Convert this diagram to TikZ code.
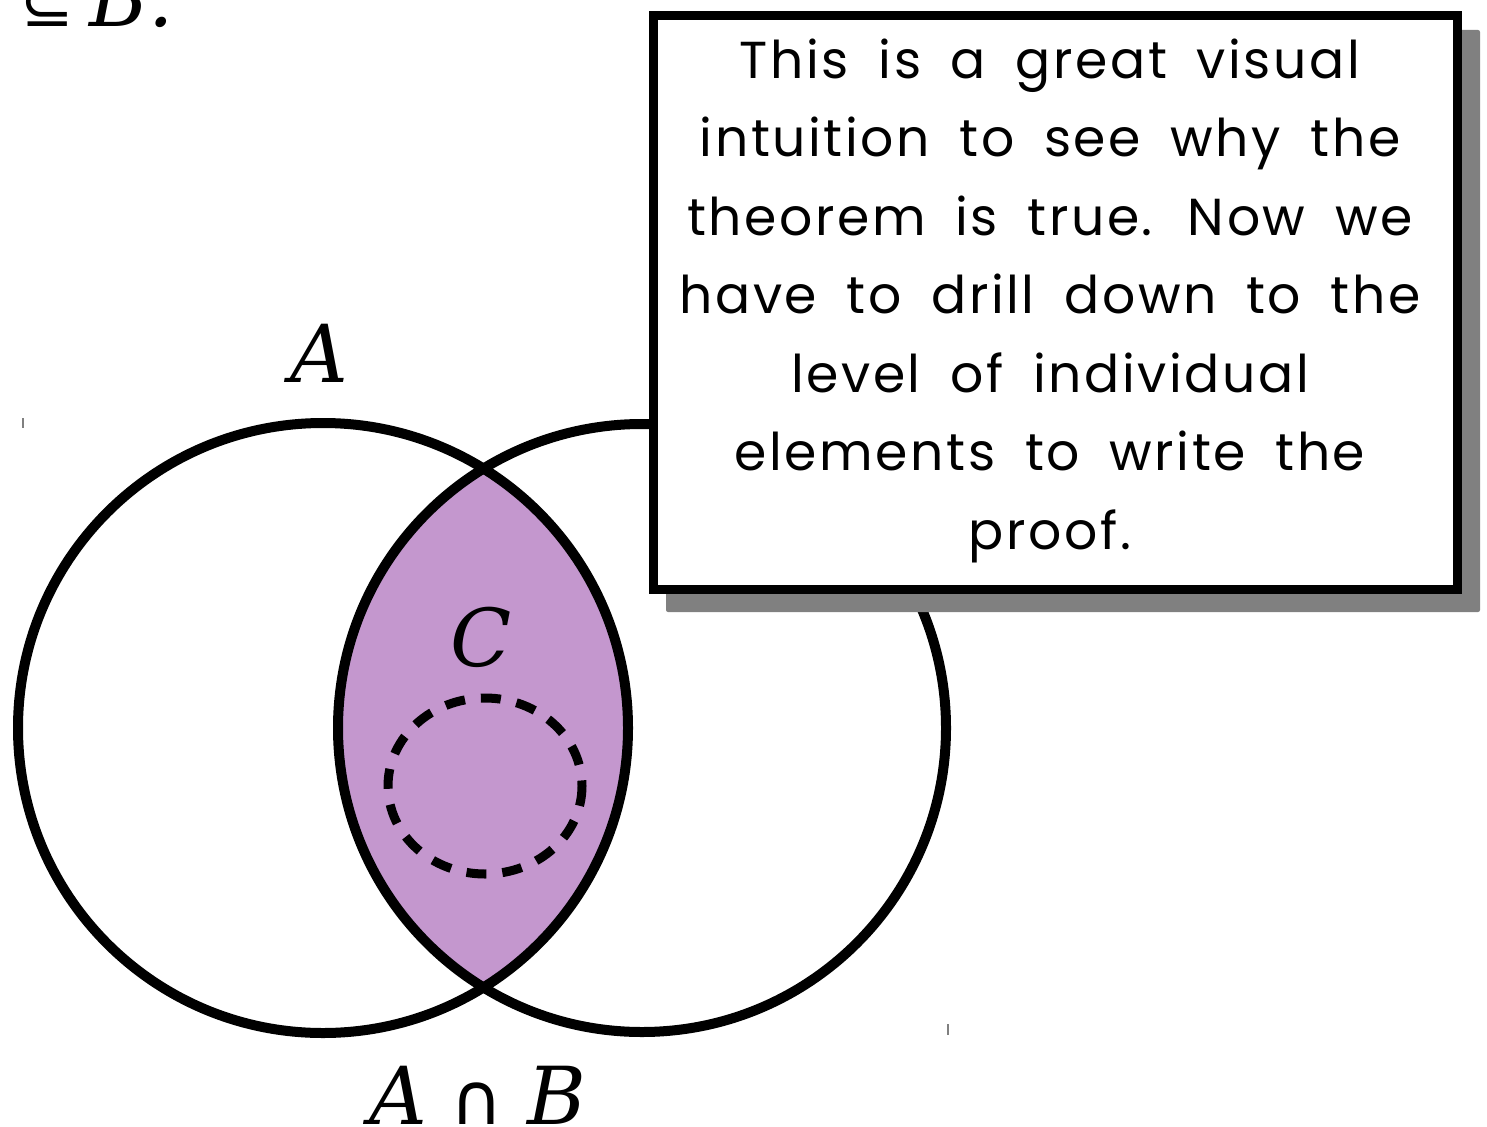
\documentclass[tikz,border=0pt]{standalone}
\usepackage{fontspec}
\setmainfont{DejaVu Serif}
\newfontfamily\handfont[LetterSpace=5,WordSpace=1.8]{Poppins}
\newfontfamily\symfont{DejaVu Sans}
\definecolor{lenscolor}{HTML}{C497CE}
\definecolor{shadowgray}{HTML}{808080}
\tikzset{
  setline/.style={line width=10pt},
  mathlbl/.style={font=\fontsize{80}{80}\selectfont\itshape, inner sep=0pt, anchor=base},
  tickmark/.style={draw=gray, line width=1.2pt},
}
\begin{document}
\begin{tikzpicture}[x=1pt,y=-1pt]
\useasboundingbox (0,0) rectangle (1487,1126);
% lens fill
\begin{scope}
  \clip (323,728) circle (305);
  \fill[lenscolor] (642,728) circle (304);
\end{scope}
\draw[setline] (323,728) circle (305);
\draw[setline] (642,728) circle (304);
% dashed inner set
\draw[line width=9pt, dash pattern=on 20pt off 16pt] (485,786) ellipse [x radius=97, y radius=88];
% labels
\node[mathlbl] (lA) at (319,382) {A};
\node[mathlbl] (lC) at (481,666) {C};
\node[mathlbl, anchor=base west] (lAB) at (369,1124) {A\hspace{0.3em}{\upshape\symfont\fontsize{72}{72}\selectfont ∩}\hspace{0.3em}B};
\node[mathlbl, anchor=base west] (lsub) at (20,27) {{\upshape\symfont\fontsize{64}{64}\selectfont ⊆}\hspace{0.2em}B.};
% tick marks
\draw[tickmark] (23,418) -- (23,428);
\draw[tickmark] (948,1024) -- (948,1035);
% callout box
\fill[shadowgray, rounded corners=2pt] (666,30) rectangle (1480,612);
\node[draw, line width=9pt, fill=white, minimum width=804pt, minimum height=573.5pt, inner sep=0pt, anchor=north west] (box) at (648.5,11) {};
\node[font=\handfont\fontsize{52}{78.5}\selectfont, align=center, anchor=north] (txt) at (1050,35) {This is a great visual\\ intuition to see why the\\ theorem is true. Now we\\ have to drill down to the\\ level of individual\\ elements to write the\\ proof.};
\end{tikzpicture}
\end{document}
